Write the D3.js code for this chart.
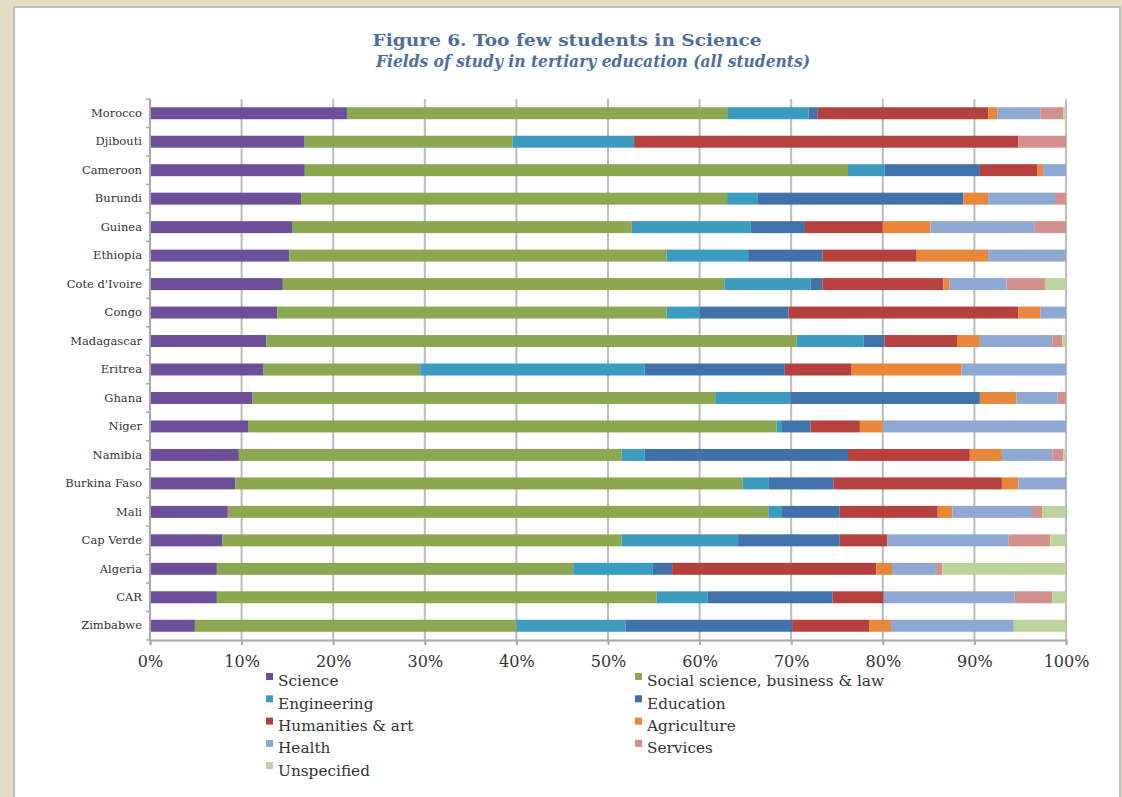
<!DOCTYPE html>
<html><head><meta charset="utf-8">
<script src="https://cdn.jsdelivr.net/npm/d3@7"></script>
<style>
html,body{margin:0;padding:0;background:#e6ddc7;}
svg{display:block;}
</style></head>
<body>
<svg id="chart" width="1122" height="797"></svg>
<script>
const countries = ["Morocco","Djibouti","Cameroon","Burundi","Guinea","Ethiopia","Cote d'Ivoire","Congo","Madagascar","Eritrea","Ghana","Niger","Namibia","Burkina Faso","Mali","Cap Verde","Algeria","CAR","Zimbabwe"];
const fields = ["Science","Social science, business & law","Engineering","Education","Humanities & art","Agriculture","Health","Services","Unspecified"];
const science     = [21.5,16.9,16.9,16.5,15.5,15.2,14.5,13.9,12.7,12.4,11.2,10.7, 9.7, 9.3, 8.5, 7.9, 7.3, 7.3, 4.9];
const socialSci   = [41.6,22.7,59.3,46.5,37.1,41.2,48.2,42.5,57.9,17.1,50.5,57.7,41.8,55.4,59.0,43.6,38.9,48.0,35.1];
const engineering = [ 8.8,13.3, 4.0, 3.3,13.0, 8.9, 9.4, 3.6, 7.3,24.5, 8.2, 0.6, 2.5, 2.8, 1.5,12.7, 8.7, 5.6,11.9];
const education   = [ 1.0, 0.0,10.4,22.5, 5.9, 8.1, 1.3, 9.7, 2.3,15.3,20.7, 3.1,22.2, 7.1, 6.3,11.1, 2.1,13.6,18.2];
const humanities  = [18.6,42.0, 6.3, 0.0, 8.5,10.3,13.2,25.1, 7.9, 7.3, 0.0, 5.4,13.3,18.4,10.7, 5.2,22.3, 5.6, 8.4];
const agriculture = [ 1.0, 0.0, 0.6, 2.7, 5.2, 7.8, 0.7, 2.4, 2.5,12.0, 4.0, 2.5, 3.5, 1.8, 1.6, 0.0, 1.7, 0.0, 2.4];
const health      = [ 4.7, 0.0, 2.5, 7.3,11.4, 8.5, 6.2, 2.8, 7.9,11.4, 4.5,20.0, 5.5, 5.2, 8.8,13.2, 4.8,14.3,13.4];
const services    = [ 2.5, 5.2, 0.0, 1.2, 3.4, 0.0, 4.2, 0.0, 1.1, 0.0, 0.9, 0.0, 1.2, 0.0, 1.0, 4.6, 0.7, 4.1, 0.0];
const unspecified = [ 0.3, 0.0, 0.0, 0.0, 0.0, 0.0, 2.3, 0.0, 0.4, 0.0, 0.0, 0.0, 0.3, 0.0, 2.6, 1.7,13.5, 1.5, 5.7];
const xTicks = [0,0.1,0.2,0.3,0.4,0.5,0.6,0.7,0.8,0.9,1.0];
const colors = ["#6c4e99","#8ba74f","#3b9cbf","#4171aa","#b5413f","#e6873b","#8fa7d3","#d4908e","#bcd39d"];

const seriesVals = [science,socialSci,engineering,education,humanities,agriculture,health,services,unspecified];
const rows = countries.map((c,i)=>{
  const o = {country:c};
  const tot = d3.sum(seriesVals, s=>s[i]);
  fields.forEach((f,j)=>{ o[f] = seriesVals[j][i]/tot; });
  return o;
});

const svg = d3.select("#chart");
svg.append("rect").attr("x",14).attr("y",7).attr("width",1106).attr("height",800).attr("fill","#ffffff").attr("stroke","#bdbdbd").attr("stroke-width",2);

const serif = "'DejaVu Serif','Liberation Serif',serif";
svg.append("text").attr("x",567).attr("y",46).attr("text-anchor","middle")
  .attr("font-family",serif).attr("font-weight","bold").attr("font-size",17.5).attr("fill","#4f6d9e")
  .attr("textLength",389).attr("lengthAdjust","spacingAndGlyphs")
  .text("Figure 6. Too few students in Science");
svg.append("text").attr("x",593).attr("y",67).attr("text-anchor","middle")
  .attr("font-family",serif).attr("font-weight","bold").attr("font-style","italic").attr("font-size",16).attr("fill","#4f6d9e")
  .attr("textLength",434).attr("lengthAdjust","spacingAndGlyphs")
  .text("Fields of study in tertiary education (all students)");

const x = d3.scaleLinear().domain([0,1]).range([150,1066]);
const y = d3.scaleBand().domain(countries).range([99,640]).paddingInner(0.58).paddingOuter(0.29);

svg.append("g").selectAll("line").data(xTicks.slice(1)).join("line")
  .attr("x1",d=>x(d)).attr("x2",d=>x(d)).attr("y1",99).attr("y2",640)
  .attr("stroke","#bcbcbc").attr("stroke-width",2);

const stack = d3.stack().keys(fields)(rows);
svg.append("g").selectAll("g").data(stack).join("g")
  .attr("fill",(d,i)=>colors[i])
  .selectAll("rect").data(d=>d).join("rect")
  .attr("x",d=>x(d[0])).attr("width",d=>Math.max(0,x(d[1])-x(d[0])))
  .attr("y",d=>y(d.data.country)).attr("height",y.bandwidth());

const yAxis = d3.axisLeft(y).tickSize(0).tickPadding(8);
const gy = svg.append("g").attr("transform","translate(150,0)").call(yAxis);
gy.select(".domain").remove();
gy.selectAll("text").attr("font-family",serif).attr("font-size",11.5).attr("fill","#333");
svg.append("line").attr("x1",150).attr("x2",150).attr("y1",99).attr("y2",640).attr("stroke","#a8a8a8").attr("stroke-width",2);
const bounds = countries.map(c=>y(c)-y.step()*y.paddingInner()/2).concat([640]);
svg.append("g").selectAll("line").data(bounds).join("line")
  .attr("x1",146).attr("x2",150).attr("y1",d=>d).attr("y2",d=>d).attr("stroke","#a8a8a8").attr("stroke-width",1.5);

const xAxis = d3.axisBottom(x).tickValues(xTicks).tickFormat(d3.format(".0%")).tickSize(5).tickPadding(11);
const gx = svg.append("g").attr("transform","translate(0,640)").call(xAxis);
gx.select(".domain").attr("stroke","#a8a8a8").attr("stroke-width",2);
gx.selectAll(".tick line").attr("stroke","#a8a8a8").attr("stroke-width",2);
gx.selectAll("text").attr("font-family",serif).attr("font-size",16).attr("fill","#333");

const lg = svg.append("g");
fields.forEach((f,i)=>{
  const col = i%2, row = Math.floor(i/2);
  const lx = col===0 ? 268 : 637, ly = 681 + row*22.3;
  lg.append("rect").attr("x",lx-2).attr("y",ly-8).attr("width",7).attr("height",7).attr("fill",colors[i]);
  lg.append("text").attr("x",lx+10).attr("y",ly).attr("dy","0.35em").attr("font-family",serif).attr("font-size",15.3).attr("fill","#333").text(f);
});
</script>
</body></html>
